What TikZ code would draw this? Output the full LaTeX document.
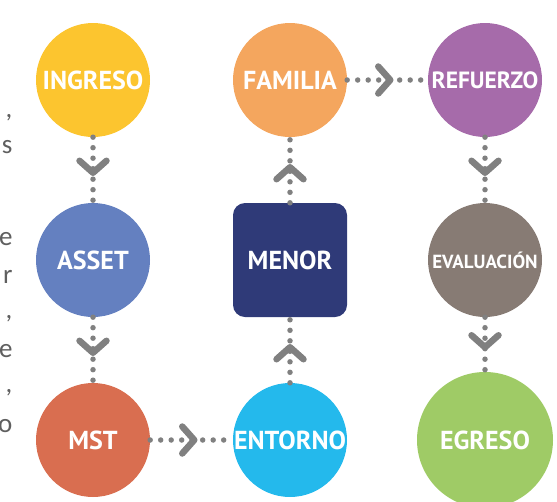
\documentclass[tikz,border=0pt]{standalone}
\usepackage{fontspec}
\setmainfont{PT Sans}
\newfontfamily\fragfont{Carlito}
\usetikzlibrary{arrows.meta, positioning, decorations.markings}

\definecolor{ingresoyellow}{HTML}{FCC52F}
\definecolor{familiaorange}{HTML}{F4A65E}
\definecolor{refuerzopurple}{HTML}{A66BAA}
\definecolor{assetblue}{HTML}{6480C0}
\definecolor{menorblue}{HTML}{2F3A78}
\definecolor{evalgray}{HTML}{877B74}
\definecolor{mstred}{HTML}{D96E50}
\definecolor{entornocyan}{HTML}{24B9EC}
\definecolor{egresogreen}{HTML}{9FCB66}
\definecolor{linkgray}{HTML}{808080}
\definecolor{textgray}{HTML}{5F5F5F}

\begin{document}
\begin{tikzpicture}[
    x=1pt, y=-1pt,
    on grid, node distance=180pt and 195pt,
    stage/.style={circle, fill=#1, minimum size=114pt, inner sep=0pt, text=white, font=\fontsize{26}{26}\selectfont\bfseries},
    core/.style={rectangle, rounded corners=12pt, fill=menorblue, minimum size=114pt, inner sep=0pt, text=white, font=\fontsize{26}{26}\selectfont\bfseries},
    link/.style={draw=linkgray, line width=5.5pt, line cap=round, dash pattern=on 0pt off 10.5pt, postaction={decorate},
        decoration={markings, mark=at position 0.5 with {\arrow[linkgray, xshift=6pt]{Straight Barb[length=12pt, width=27pt, line width=6.5pt, round]}}}},
    frag/.style={text=textgray, anchor=base east, font=\fragfont\fontsize{27}{27}\selectfont}
]
\useasboundingbox (0,0) rectangle (557,501);

% primera columna (de arriba a abajo)
\node (ingreso) [stage=ingresoyellow] at (93,80) {INGRESO};
\node (asset) [stage=assetblue, below=of ingreso] {ASSET};
\node (mst) [stage=mstred, below=of asset] {MST};

% segunda columna (de abajo a arriba)
\node (entorno) [stage=entornocyan, right=of mst, xshift=2pt] {ENTORNO};
\node (menor) [core, above=of entorno] {MENOR};
\node (familia) [stage=familiaorange, above=of menor] {FAMILIA};

% tercera columna (de arriba a abajo)
\node (refuerzo) [stage=refuerzopurple, right=of familia, font=\fontsize{23.5}{23.5}\selectfont\bfseries] {REFUERZO};
\node (evaluacion) [stage=evalgray, below=of refuerzo, font=\fontsize{19}{19}\selectfont\bfseries] {EVALUACIÓN};
\node (egreso) [stage=egresogreen, below=of evaluacion, minimum size=136pt] {EGRESO};

% flechas punteadas
\draw [link] (ingreso) -- (asset);
\draw [link] (asset) -- (mst);
\draw [link] (mst) -- (entorno);
\draw [link] (entorno) -- (menor);
\draw [link] (menor) -- (familia);
\draw [link] (familia) -- (refuerzo);
\draw [link] (refuerzo) -- (evaluacion);
\draw [link] (evaluacion) -- (egreso);

% restos del texto cortado a la izquierda
\node (f1) [frag] at (16,117) {,};
\node (f2) [frag] at (16,153) {s};
\node (f3) [frag] at (16,245) {e};
\node (f4) [frag] at (16,283) {r};
\node (f5) [frag] at (16,318) {,};
\node (f6) [frag] at (16,357) {e};
\node (f7) [frag] at (16,392) {,};
\node (f8) [frag] at (16,432) {o};
\end{tikzpicture}
\end{document}
